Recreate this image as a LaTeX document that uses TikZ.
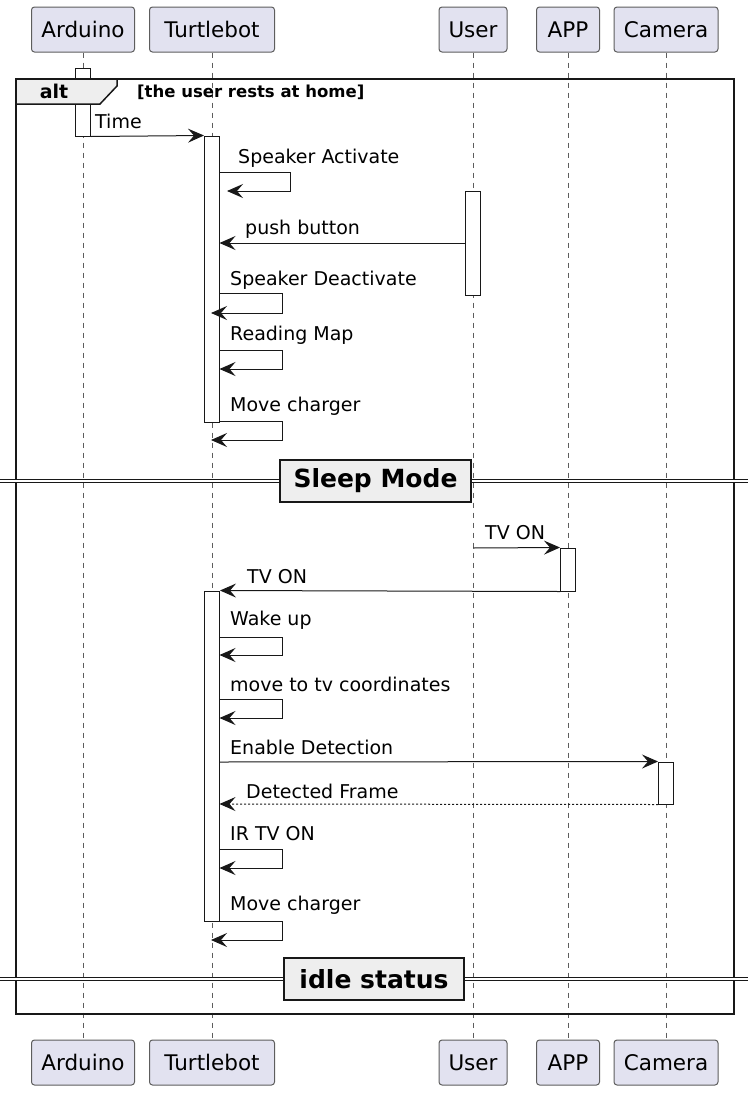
\documentclass[tikz,border=0pt]{standalone}
\usepackage{fontspec}
\setmainfont{DejaVu Sans}
\usetikzlibrary{arrows.meta}
\definecolor{partfill}{HTML}{E2E2F0}
\definecolor{tabfill}{HTML}{EEEEEE}
\definecolor{ink}{HTML}{181818}
\tikzset{
  part/.style={draw=ink!70, fill=partfill, rounded corners=3pt, line width=1pt,
    minimum height=45pt, inner sep=0pt, font=\fontsize{21.5}{25}\selectfont},
  lifeline/.style={draw=ink!70, dashed, dash pattern=on 5pt off 5pt, line width=1pt},
  activ/.style={draw=ink, fill=white, line width=1pt, minimum width=15pt, inner sep=0pt},
  msg/.style={draw=ink, line width=1pt, -{Stealth[length=16pt,width=14pt,inset=6pt]}},
  reply/.style={msg, dash pattern=on 2pt off 2pt},
  txt/.style={anchor=west, inner sep=0pt, font=\fontsize{19}{22}\selectfont},
  frame/.style={draw=ink, line width=2.5pt},
  divline/.style={draw=ink, double=white, double distance=2.5pt, line width=1.2pt},
  divbox/.style={draw=ink, fill=tabfill, line width=2pt, minimum height=42pt,
    inner sep=0pt, font=\fontsize{25}{28}\selectfont\bfseries}
}
\begin{document}
\begin{tikzpicture}[x=1pt,y=-1pt]
\useasboundingbox (0,0) rectangle (748,1093);
% participants
\node[part, minimum width=103pt] (ardT) at (83,29.5) {Arduino};
\node[part, minimum width=125pt] (tbT) at (212,29.5) {Turtlebot};
\node[part, minimum width=68pt] (usrT) at (473,29.5) {User};
\node[part, minimum width=63pt] (appT) at (568,29.5) {APP};
\node[part, minimum width=104pt] (camT) at (666,29.5) {Camera};
\node[part, minimum width=103pt] (ardB) at (83,1062.5) {Arduino};
\node[part, minimum width=125pt] (tbB) at (212,1062.5) {Turtlebot};
\node[part, minimum width=68pt] (usrB) at (473,1062.5) {User};
\node[part, minimum width=63pt] (appB) at (568,1062.5) {APP};
\node[part, minimum width=104pt] (camB) at (666,1062.5) {Camera};
\draw[lifeline] (ardT) -- (ardB);
\draw[lifeline] (tbT) -- (tbB);
\draw[lifeline] (usrT) -- (usrB);
\draw[lifeline] (appT) -- (appB);
\draw[lifeline] (camT) -- (camB);

% activations
\node[activ, minimum height=68pt] (actA) at (83,102) {};
\node[activ, minimum height=286pt] (actT1) at (212,279) {};
\node[activ, minimum height=104pt] (actU) at (473,243) {};
\node[activ, minimum height=43pt] (actP) at (568,569.5) {};
\node[activ, minimum height=330pt] (actT2) at (212,756) {};
\node[activ, minimum height=42pt] (actC) at (666,783) {};

% alt frame
\draw[frame] (16,79) rectangle (734,1014);
\draw[frame, fill=tabfill, line width=1.5pt] (16,79) -- (117,79) -- (117,86) -- (100,104) -- (16,104) -- cycle;
\node[inner sep=0pt, font=\fontsize{19}{22}\selectfont\bfseries] (altlbl) at (54,91) {alt};
\node[txt, font=\fontsize{16.5}{20}\selectfont\bfseries] (guard) at (137,92) {[the user rests at home]};

% first part
\draw[msg] (actA.south east) -- (actT1.north west);
\node[txt] (l1) at (95,121) {Time};

\coordinate (sa1) at (219.5,172);
\coordinate (sa2) at (227,191);
\draw[msg] (sa1) -- (290,172) |- (sa2);
\node[txt] (l2) at (238,158) {Speaker Activate};

\coordinate (pb1) at (465.5,243);
\coordinate (pb2) at (219.5,243);
\draw[msg] (pb1) -- (pb2);
\node[txt] (l3) at (245,229) {push button};

\coordinate (sd1) at (219.5,293);
\coordinate (sd2) at (211,313);
\draw[msg] (sd1) -- (282,293) |- (sd2);
\node[txt] (l4) at (230,280) {Speaker Deactivate};

\coordinate (rm1) at (219.5,350);
\coordinate (rm2) at (219.5,369);
\draw[msg] (rm1) -- (282,350) |- (rm2);
\node[txt] (l5) at (230,335) {Reading Map};

\coordinate (mc1) at (219.5,421);
\coordinate (mc2) at (211,440);
\draw[msg] (mc1) -- (282,421) |- (mc2);
\node[txt] (l6) at (230,406) {Move charger};

% divider
\draw[divline] (0,481) -- (748,481);
\node[divbox, minimum width=191pt] (sleep) at (375.5,481) {Sleep Mode};

% second part
\coordinate (tv1) at (473,548);
\draw[msg] (tv1) -- (actP.north west);
\node[txt] (l7) at (485,533) {TV ON};

\draw[msg] (actP.south west) -- (actT2.north east);
\node[txt] (l8) at (247,577) {TV ON};

\coordinate (wu1) at (219.5,637);
\coordinate (wu2) at (219.5,655);
\draw[msg] (wu1) -- (282,637) |- (wu2);
\node[txt] (l9) at (230,620) {Wake up};

\coordinate (mt1) at (219.5,699);
\coordinate (mt2) at (219.5,718);
\draw[msg] (mt1) -- (282,699) |- (mt2);
\node[txt] (l10) at (230,684) {move to tv coordinates};

\coordinate (ed1) at (219.5,762);
\draw[msg] (ed1) -- (actC.north west);
\node[txt] (l11) at (230,747) {Enable Detection};

\coordinate (df2) at (219.5,804);
\draw[reply] (actC.south west) -- (df2);
\node[txt] (l12) at (246,791) {Detected Frame};

\coordinate (ir1) at (219.5,849);
\coordinate (ir2) at (219.5,868);
\draw[msg] (ir1) -- (282,849) |- (ir2);
\node[txt] (l13) at (230,834) {IR TV ON};

\coordinate (mc3) at (219.5,921);
\coordinate (mc4) at (211,940);
\draw[msg] (mc3) -- (282,921) |- (mc4);
\node[txt] (l14) at (230,905) {Move charger};

% divider
\draw[divline] (0,979) -- (748,979);
\node[divbox, minimum width=180pt] (idle) at (374,979) {idle status};
\end{tikzpicture}
\end{document}
